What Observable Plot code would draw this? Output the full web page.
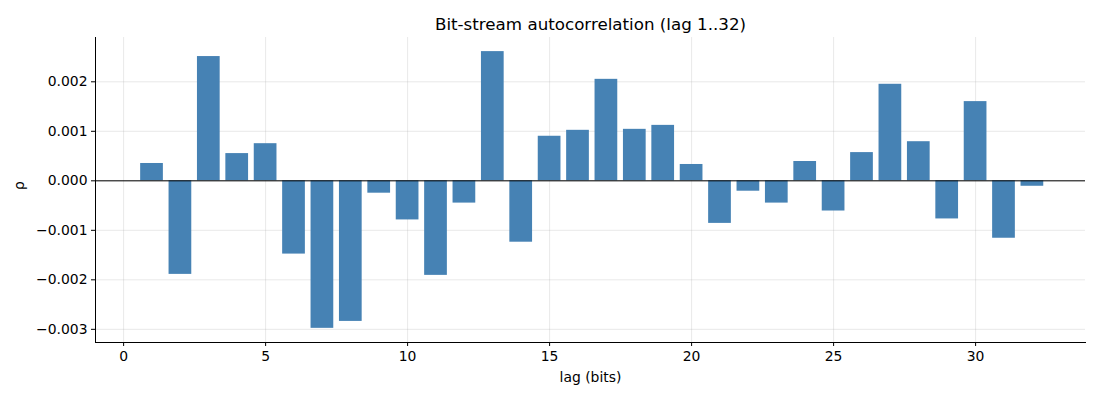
<!DOCTYPE html>
<html>
<head>
<meta charset="utf-8">
<script src="https://cdn.jsdelivr.net/npm/d3@7"></script>
<script src="https://cdn.jsdelivr.net/npm/@observablehq/plot@0.6"></script>
<style>
  html, body { margin: 0; padding: 0; background: #fff; }
  #chart svg { display: block; }
</style>
</head>
<body>
<div id="chart"></div>
<script>
const lags = [1,2,3,4,5,6,7,8,9,10,11,12,13,14,15,16,17,18,19,20,21,22,23,24,25,26,27,28,29,30,31,32];
const rho = [0.00035,-0.00189,0.00251,0.00055,0.00075,-0.00148,-0.00298,-0.00284,-0.00025,-0.00079,-0.00191,-0.00045,0.00261,-0.00124,0.00090,0.00102,0.00205,0.00104,0.00112,0.00033,-0.00086,-0.00021,-0.00045,0.00039,-0.00061,0.00057,0.00195,0.00079,-0.00077,0.00160,-0.00116,-0.00011];
const xTicks = [0,5,10,15,20,25,30];
const yTicks = [-0.003,-0.002,-0.001,0,0.001,0.002];
const title = "Bit-stream autocorrelation (lag 1..32)";

const data = lags.map((l, i) => ({lag: l, rho: rho[i]}));
const fmtY = d => d3.format(".3f")(d).replace("-", "\u2212");

const chart = Plot.plot({
  width: 1100,
  height: 400,
  marginLeft: 95,
  marginRight: 15,
  marginTop: 37,
  marginBottom: 58,
  style: {fontFamily: "DejaVu Sans", fontSize: "13.9px", color: "#000", background: "#fff"},
  x: {domain: [-0.99, 33.87], ticks: xTicks, tickSize: 4, tickPadding: 6, label: null},
  y: {domain: [-0.003266, 0.002895], ticks: yTicks, tickSize: 4, tickPadding: 5, tickFormat: fmtY, label: null},
  marks: [
    Plot.gridX(xTicks, {stroke: "#b0b0b0", strokeOpacity: 0.35, strokeWidth: 0.8}),
    Plot.gridY(yTicks, {stroke: "#b0b0b0", strokeOpacity: 0.35, strokeWidth: 0.8}),
    Plot.rectY(data, {x1: d => d.lag - 0.4, x2: d => d.lag + 0.4, y: "rho", fill: "#4682b4"}),
    Plot.ruleY([0], {stroke: "#000", strokeWidth: 1, strokeOpacity: 1}),
    Plot.axisX({ticks: xTicks, tickSize: 4, tickPadding: 5, label: null, fontSize: 13.9}),
    Plot.axisY({ticks: yTicks, tickSize: 4, tickPadding: 4, tickFormat: fmtY, label: null, fontSize: 13.9}),
    Plot.frame({anchor: "left", stroke: "#000", strokeWidth: 1}),
    Plot.frame({anchor: "bottom", stroke: "#000", strokeWidth: 1}),
    Plot.text([title], {frameAnchor: "top", dy: -8, fontSize: 16.7, fill: "#000", lineAnchor: "bottom"}),
    Plot.text(["lag (bits)"], {frameAnchor: "bottom", dy: 39, fontSize: 13.9, fill: "#000"}),
    Plot.text(["\u03c1"], {frameAnchor: "left", dx: -76, rotate: -90, fontSize: 13.9, fill: "#000"})
  ]
});
document.getElementById("chart").appendChild(chart);
</script>
</body>
</html>
